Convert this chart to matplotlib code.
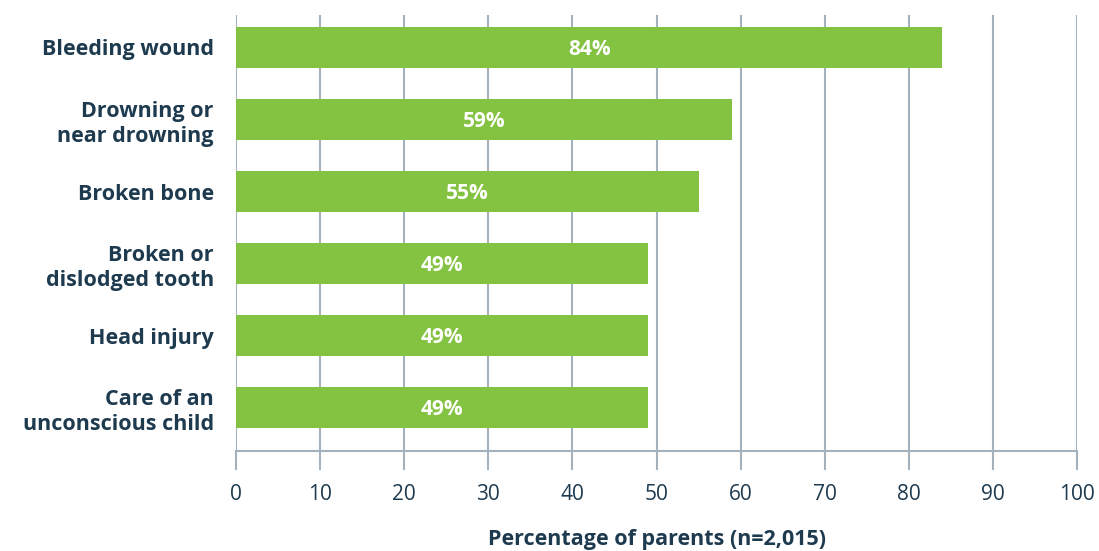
import matplotlib.pyplot as plt

categories = [
    "Bleeding wound",
    "Drowning or\nnear drowning",
    "Broken bone",
    "Broken or\ndislodged tooth",
    "Head injury",
    "Care of an\nunconscious child",
]
percent = [84, 59, 55, 49, 49, 49]
xticks = list(range(0, 101, 10))

navy = "#1e3a4f"
grid = "#a3b2bc"
green = "#84c341"

plt.rcParams["font.family"] = ["Open Sans", "DejaVu Sans"]

fig = plt.figure(figsize=(10.99, 5.51), dpi=100)
ax = fig.add_axes([236 / 1099, 1 - 451 / 551, (1077 - 236) / 1099, (451 - 15) / 551])

ypos = list(range(len(categories)))
ax.barh(ypos, percent, height=0.57, color=green, zorder=3)
for y, v in zip(ypos, percent):
    ax.text(v / 2, y + 0.03, f"{v}%", ha="center", va="center", color="white",
            fontsize=15, fontweight="bold", zorder=4)

ax.set_xlim(0, 100)
ax.set_ylim(5.6, -0.45)
ax.set_xticks(xticks)
ax.set_yticks(ypos)
ax.set_yticklabels(categories, fontsize=15.5, fontweight="bold", color=navy,
                   linespacing=1.25)
ax.tick_params(axis="y", length=0, pad=16)
ax.tick_params(axis="x", length=14, width=1.5, color=grid, labelsize=15,
               labelcolor=navy, pad=10)

ax.grid(axis="x", color=grid, linewidth=1.5, zorder=0)
for side in ["top", "right", "left"]:
    ax.spines[side].set_visible(False)
ax.spines["bottom"].set_color(grid)
ax.spines["bottom"].set_linewidth(1.5)

ax.set_xlabel("Percentage of parents (n=2,015)", fontsize=15.5, fontweight="bold",
              color=navy, va="center")
ax.xaxis.set_label_coords(0.5, -0.204)

fig.savefig("out.png", dpi=100)
